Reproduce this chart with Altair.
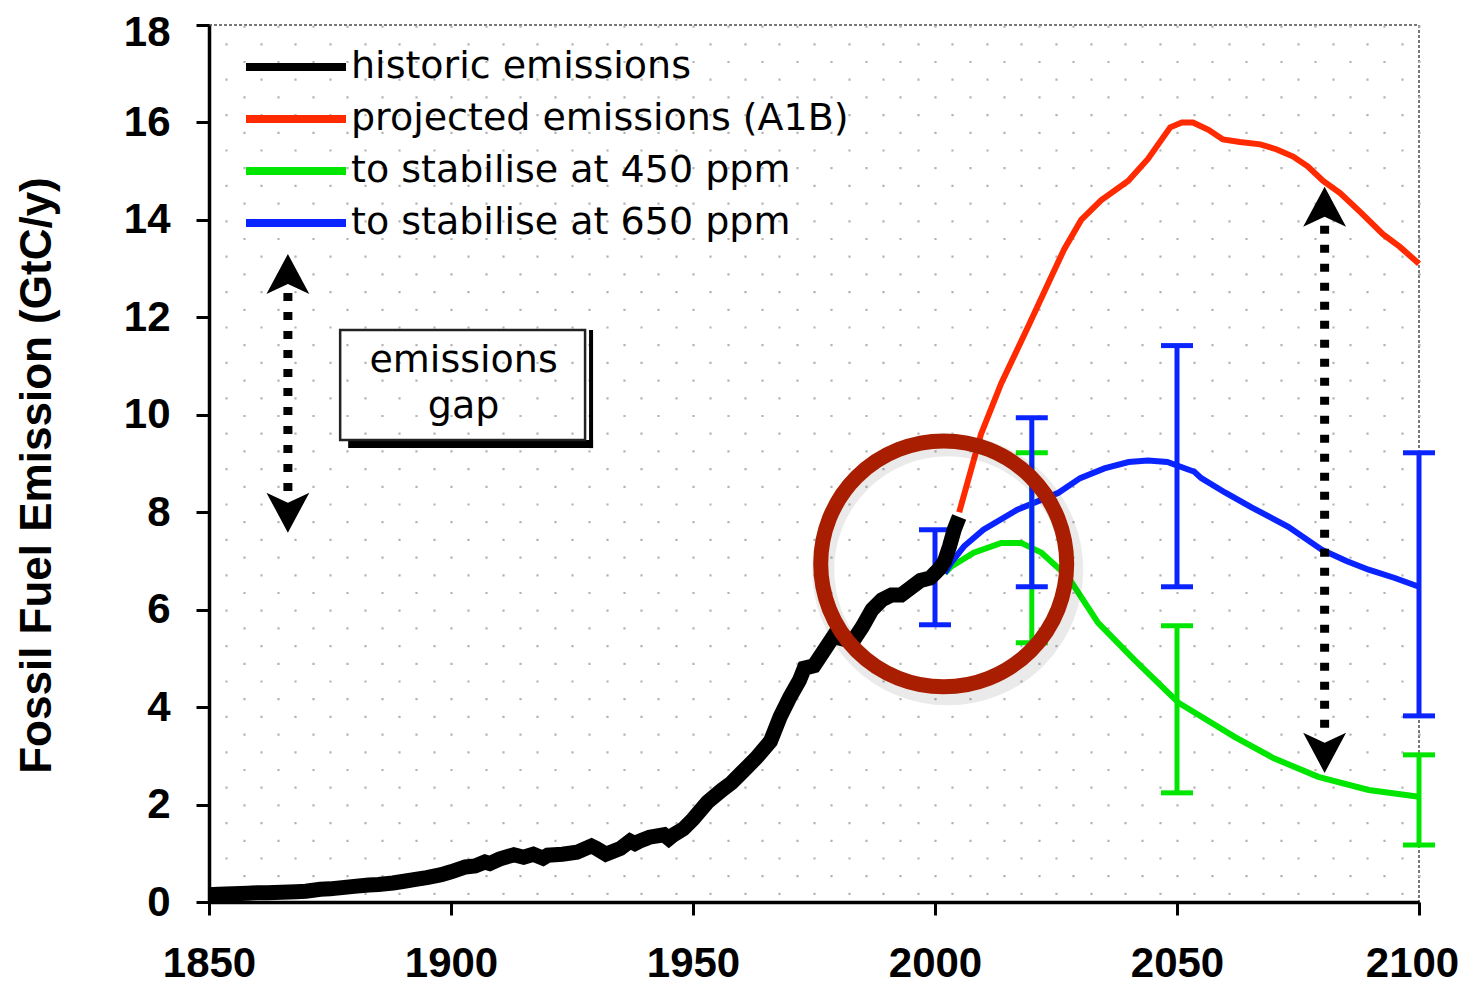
import altair as alt
import numpy as np
import pandas as pd

# ---------------- data ----------------
series_names = ["historic emissions", "projected emissions (A1B)",
                "to stabilise at 450 ppm", "to stabilise at 650 ppm"]
series_colors = ["#000000", "#ff2a00", "#00e600", "#0a24ff"]

hist_years = [1850, 1852, 1855, 1858, 1860, 1862, 1865, 1868, 1870, 1873, 1875, 1878,
              1880, 1883, 1885, 1888, 1890, 1893, 1895, 1898, 1900, 1903, 1905,
              1907, 1908, 1910, 1913, 1915, 1917, 1919, 1920, 1923, 1926, 1929, 1930,
              1932, 1935, 1937, 1938, 1939, 1941, 1944, 1945, 1946, 1948, 1950, 1953,
              1956, 1958, 1960, 1963, 1966, 1968, 1970, 1972, 1973, 1975, 1977, 1979,
              1981, 1983, 1985, 1987, 1989, 1991, 1993, 1995, 1997, 1999, 2000, 2001,
              2002, 2003, 2004, 2005]
hist_vals = [0.15, 0.16, 0.17, 0.18, 0.19, 0.19, 0.2, 0.21, 0.22, 0.26, 0.27, 0.3,
             0.32, 0.35, 0.36, 0.39, 0.42, 0.47, 0.5, 0.56, 0.62, 0.72, 0.74,
             0.82, 0.79, 0.88, 0.97, 0.92, 0.98, 0.9, 0.96, 0.98, 1.02, 1.15, 1.1,
             0.98, 1.1, 1.25, 1.2, 1.25, 1.33, 1.38, 1.3, 1.38, 1.5, 1.7, 2.05,
             2.3, 2.45, 2.65, 2.95, 3.3, 3.8, 4.2, 4.55, 4.8, 4.85, 5.15, 5.45,
             5.4, 5.35, 5.65, 6.0, 6.2, 6.3, 6.3, 6.45, 6.6, 6.65, 6.75, 6.85,
             7.0, 7.3, 7.65, 7.9]

a1b_years = [2005, 2009.5, 2013.7, 2019.2, 2023.4, 2026.7, 2030.2, 2034.3, 2039.9, 2044,
             2048.6, 2051, 2053.3, 2056.5, 2059.5, 2063, 2067.2, 2070.5, 2074, 2077,
             2080.2, 2083.7, 2088, 2092.6, 2096, 2100]
a1b_vals = [8.0, 9.6, 10.65, 11.8, 12.7, 13.4, 14.0, 14.4, 14.8, 15.25,
            15.9, 16.0, 16.0, 15.85, 15.65, 15.6, 15.55, 15.45, 15.3, 15.1,
            14.8, 14.55, 14.15, 13.7, 13.45, 13.1]

s450_years = [2002, 2003.3, 2008, 2013.7, 2017.8, 2022, 2027.5, 2033.7, 2041.2, 2050.3,
              2061.9, 2070, 2079.2, 2089.6, 2100]
s450_vals = [6.75, 6.88, 7.17, 7.37, 7.37, 7.17, 6.67, 5.73, 4.97, 4.09,
             3.39, 2.95, 2.57, 2.3, 2.16]

s650_years = [2002, 2003.3, 2006, 2010, 2017, 2025.5, 2030, 2035, 2040, 2044, 2048,
              2053.6, 2055, 2060, 2065.4, 2073, 2079.9, 2085, 2089.6, 2095, 2100]
s650_vals = [6.75, 6.96, 7.3, 7.64, 8.05, 8.4, 8.7, 8.9, 9.03, 9.06, 9.03,
             8.83, 8.7, 8.4, 8.1, 7.7, 7.23, 7.0, 6.82, 6.65, 6.47]

# uncertainty bars
bar650_years = [2000, 2020, 2050, 2100]
bar650_lo = [5.69, 6.47, 6.47, 3.82]
bar650_hi = [7.64, 9.94, 11.42, 9.22]
bar450_years = [2020, 2050, 2100]
bar450_lo = [5.32, 2.24, 1.17]
bar450_hi = [9.22, 5.67, 3.02]

# "emissions gap" annotation (double arrows)
arrow_years = [1866.3, 2080.5]
arrow_top = [13.3, 14.68]
arrow_bottom = [7.58, 2.65]

# text box
box_x = [1877.1, 1927.7]
box_y = [9.48, 11.74]
box_lines = ["emissions", "gap"]
box_line_y = [10.88, 9.93]
box_text_x = 1902.6

# highlight circle
circle_year = [2001.8]
circle_val = [6.94]

y_ticks = [0, 2, 4, 6, 8, 10, 12, 14, 16, 18]

# ---------------- tables ----------------
lines_df = pd.concat([
    pd.DataFrame({"year": a1b_years, "value": a1b_vals, "series": series_names[1]}),
    pd.DataFrame({"year": s450_years, "value": s450_vals, "series": series_names[2]}),
    pd.DataFrame({"year": s650_years, "value": s650_vals, "series": series_names[3]}),
])
hist_df = pd.DataFrame({"year": hist_years, "value": hist_vals, "series": series_names[0]})
b650 = pd.DataFrame({"year": bar650_years, "lo": bar650_lo, "hi": bar650_hi})
b450 = pd.DataFrame({"year": bar450_years, "lo": bar450_lo, "hi": bar450_hi})
arr = pd.DataFrame({"year": arrow_years, "top": arrow_top, "bottom": arrow_bottom})
box_df = pd.DataFrame({"x": [box_x[0]], "x2": [box_x[1]], "y": [box_y[0]], "y2": [box_y[1]]})
txt_df = pd.DataFrame({"x": [box_text_x] * 2, "y": box_line_y, "t": box_lines})
circ_df = pd.DataFrame({"year": circle_year, "value": circle_val})

# ---------------- scales / axes ----------------
xs = alt.Scale(domain=[1850, 2100], nice=False, zero=False)
ys = alt.Scale(domain=[0, 18], nice=False, zero=True)

# dense axis values: majors every 50 years, the rest only carry the dotted background grid
grid_years = [float(v) for v in 1850 + np.arange(71) * 50.0 / 14.0]
is_major = "round((datum.value - 1850) * 0.28) % 14 == 0"

x_axis = alt.Axis(
    values=grid_years, tickCount=500, title=None,
    labelExpr=f"{is_major} ? '' + round(datum.value) : ''",
    labelOverlap=False, labelFlush=False,
    labelFont="Liberation Sans", labelFontSize=42, labelFontWeight="bold",
    labelColor="black", labelPadding=28,
    labelOffset={"condition": {"test": "datum.value > 2099", "value": -7}, "value": 0},
    tickSize=13, tickWidth=3, tickColor="black",
    tickOpacity={"condition": {"test": is_major, "value": 1}, "value": 0},
    grid=True, gridColor="#b4b4b4", gridWidth=2.2, gridDash=[2.2, 33.2],
    gridDashOffset={"condition": {"test": "round((datum.value - 1850) * 0.28) % 2 == 1",
                                  "value": 17.7}, "value": 0},
    domainColor="black", domainWidth=3.5,
)
y_axis = alt.Axis(
    values=y_ticks, grid=False,
    labelFont="Liberation Sans", labelFontSize=42, labelFontWeight="bold",
    labelColor="black", labelPadding=26,
    labelOffset={"condition": {"test": "datum.value > 17", "value": 7}, "value": 0},
    tickSize=13, tickWidth=3, tickColor="black",
    domainColor="black", domainWidth=3.5,
    title="Fossil Fuel Emission (GtC/y)", titleFont="Liberation Sans",
    titleFontSize=44, titleFontWeight="bold", titleColor="black",
    titleX=-159, titleY=450, titleAngle=270, titleAlign="center",
    titleBaseline="alphabetic",
)

color_scale = alt.Scale(domain=series_names, range=series_colors)
legend = alt.Legend(
    orient="none", legendX=33, legendY=22, title=None, padding=0,
    symbolType="stroke", symbolSize=10000, symbolStrokeWidth=8, symbolOpacity=1,
    labelFont="DejaVu Sans", labelFontSize=38, labelColor="black",
    labelOffset=1, labelLimit=1000, clipHeight=40, rowPadding=12,
)

X = alt.X("year:Q", scale=xs, axis=x_axis)
Y = alt.Y("value:Q", scale=ys, axis=y_axis)

proj = alt.Chart(lines_df).mark_line(strokeWidth=6).encode(
    x=X, y=Y, color=alt.Color("series:N", scale=color_scale, legend=legend),
    detail="series:N")

hist = alt.Chart(hist_df).mark_line(strokeWidth=15, strokeJoin="miter").encode(
    x=X, y=Y, color=alt.Color("series:N", scale=color_scale, legend=legend))


def bars(df, col):
    base = alt.Chart(df)
    rule = base.mark_rule(color=col, strokeWidth=5).encode(
        x=alt.X("year:Q", scale=xs), y=alt.Y("lo:Q", scale=ys), y2="hi:Q")
    lo = base.mark_tick(color=col, orient="horizontal", size=32, thickness=5, opacity=1).encode(
        x=alt.X("year:Q", scale=xs), y=alt.Y("lo:Q", scale=ys))
    hi = base.mark_tick(color=col, orient="horizontal", size=32, thickness=5, opacity=1).encode(
        x=alt.X("year:Q", scale=xs), y=alt.Y("hi:Q", scale=ys))
    return rule + lo + hi


bars450 = bars(b450, series_colors[2])
bars650 = bars(b650, series_colors[3])

# dotted double arrows
arr_line = alt.Chart(arr).transform_calculate(
    a="datum.top - 0.8", b="datum.bottom + 0.8"
).mark_rule(color="black", strokeWidth=9, strokeDash=[8, 11]).encode(
    x=alt.X("year:Q", scale=xs), y=alt.Y("a:Q", scale=ys), y2="b:Q")
up_head = alt.Chart(arr).mark_point(
    shape="M0,0L0.75,1.4L0,1.05L-0.75,1.4Z", size=3270, filled=True,
    color="black", opacity=1).encode(
    x=alt.X("year:Q", scale=xs), y=alt.Y("top:Q", scale=ys))
down_head = alt.Chart(arr).mark_point(
    shape="M0,0L0.75,-1.4L0,-1.05L-0.75,-1.4Z", size=3270, filled=True,
    color="black", opacity=1).encode(
    x=alt.X("year:Q", scale=xs), y=alt.Y("bottom:Q", scale=ys))

# text box with drop shadow (right and bottom strips)
box_base = alt.Chart(box_df)
shadow_r = box_base.mark_rect(color="black", xOffset=4, x2Offset=8, yOffset=8, y2Offset=0).encode(
    x=alt.X("x2:Q", scale=xs), x2="x2:Q", y=alt.Y("y:Q", scale=ys), y2="y2:Q")
shadow_b = box_base.mark_rect(color="black", xOffset=8, x2Offset=8, yOffset=8, y2Offset=0).encode(
    x=alt.X("x:Q", scale=xs), x2="x2:Q", y=alt.Y("y:Q", scale=ys), y2="y:Q")
box = box_base.mark_rect(fill="white", fillOpacity=0, stroke="#222", strokeWidth=2.5).encode(
    x=alt.X("x:Q", scale=xs), x2="x2:Q", y=alt.Y("y:Q", scale=ys), y2="y2:Q")
box_text = alt.Chart(txt_df).mark_text(
    font="DejaVu Sans", fontSize=38, color="black", align="center", baseline="alphabetic"
).encode(x=alt.X("x:Q", scale=xs), y=alt.Y("y:Q", scale=ys), text="t:N")

# highlight circle with soft shadow
circ_shadow = alt.Chart(circ_df).mark_point(
    shape="circle", size=62000, filled=False, stroke="black", strokeWidth=22,
    opacity=0.08, xOffset=4, yOffset=6).encode(
    x=alt.X("year:Q", scale=xs), y=alt.Y("value:Q", scale=ys))
circ = alt.Chart(circ_df).mark_point(
    shape="circle", size=60500, filled=False, stroke="#a91e00", strokeWidth=15,
    opacity=1).encode(
    x=alt.X("year:Q", scale=xs), y=alt.Y("value:Q", scale=ys))

chart = alt.layer(
    proj, bars450, bars650, hist, arr_line, up_head, down_head,
    shadow_r, shadow_b, box, box_text, circ_shadow, circ
).properties(
    width=1210, height=877,
    autosize=alt.AutoSizeParams(type="none"),
    padding={"left": 201, "top": 17, "right": 41, "bottom": 83},
    background="white",
).configure_view(
    stroke="#777777", strokeWidth=2, strokeDash=[3, 2]
)

chart.save("out.html", embed_options={"renderer": "svg", "actions": False})
